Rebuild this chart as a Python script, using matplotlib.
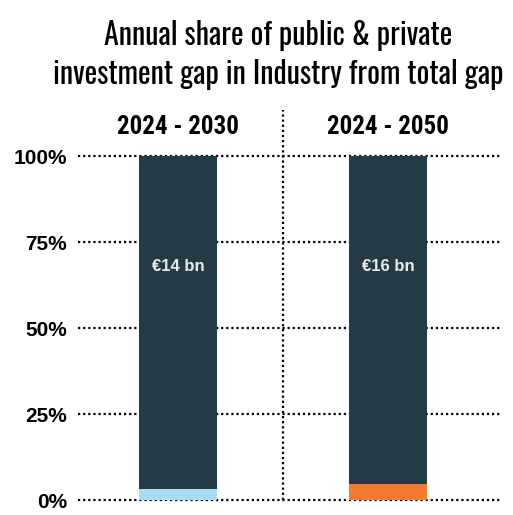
import matplotlib
matplotlib.use("Agg")
import matplotlib.pyplot as plt

# Data
periods = ["2024 - 2030", "2024 - 2050"]
industry_share = [3.3, 4.7]          # % of total gap (bottom segment)
rest_share = [96.7, 95.3]             # remaining share
bar_labels = ["€14 bn", "€16 bn"]
industry_colors = ["#a8dcf5", "#f47a2f"]
y_ticks = [0, 25, 50, 75, 100]
y_tick_labels = ["0%", "25%", "50%", "75%", "100%"]

dark = "#253a47"
condensed = ["Oswald", "Roboto Condensed", "Archivo Narrow", "DejaVu Sans"]
condensed_bold = ["Oswald SemiBold", "Oswald Bold", "Roboto Condensed", "Oswald", "DejaVu Sans"]

fig = plt.figure(figsize=(5.13, 5.15), dpi=100)
ax = fig.add_axes([0.152, 0.029, 0.823, 0.668])

x = list(range(len(periods)))
ax.bar(x, industry_share, width=0.371, color=industry_colors, zorder=3)
ax.bar(x, rest_share, bottom=industry_share, width=0.371, color=dark, zorder=3)

for i, lab in enumerate(bar_labels):
    ax.text(x[i], 68, lab, color="#e8ecef", ha="center", va="center",
            fontsize=12, fontweight="bold", family="Liberation Sans", zorder=4)

for i, p in enumerate(periods):
    ax.text(x[i], 108.5, p, ha="center", va="center", fontsize=18,
            fontweight="bold", family=condensed_bold, clip_on=False)

ax.set_xlim(-0.476, 1.533)
ax.set_ylim(0, 100)
ax.set_yticks(y_ticks)
ax.set_yticklabels(y_tick_labels, fontsize=15, fontweight="bold", family="Liberation Sans")
ax.tick_params(axis="y", length=0, pad=8)
ax.set_xticks([])
for s in ax.spines.values():
    s.set_visible(False)

# dotted gridlines and divider
for t in y_ticks:
    ax.axhline(t, color="black", linestyle=(0, (1, 1.3)), linewidth=1.6, zorder=1, clip_on=False)
ax.plot([0.5, 0.5], [0, 113.5], color="black", linestyle=(0, (1, 1.3)), linewidth=1.6,
        zorder=1, clip_on=False)

fig.text(0.542, 0.893, "Annual share of public & private\ninvestment gap in Industry from total gap",
         ha="center", va="center", fontsize=21.6, family=condensed, fontweight="normal",
         linespacing=1.35)

plt.savefig("out.png", dpi=100)
